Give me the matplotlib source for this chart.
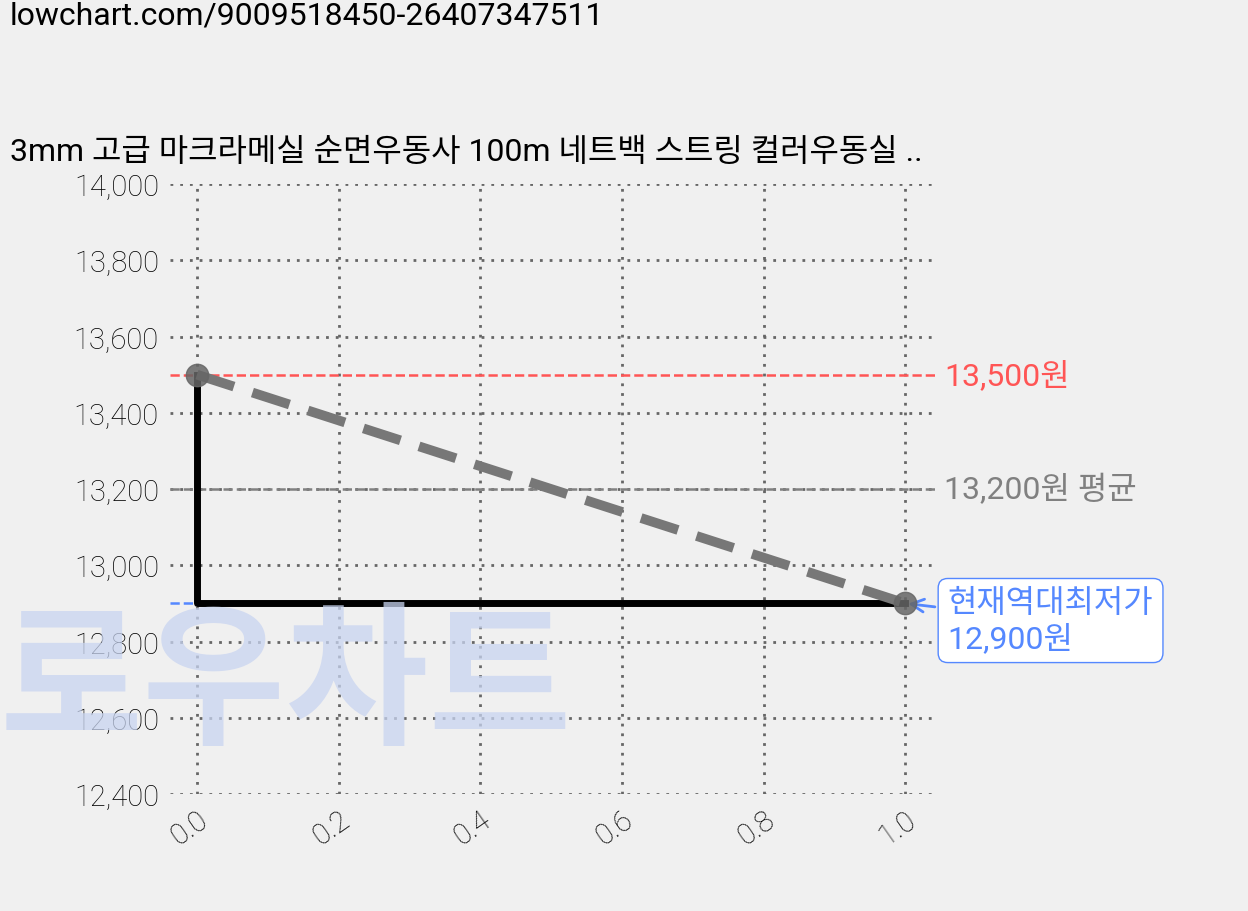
import matplotlib
matplotlib.use("Agg")
import matplotlib.pyplot as plt

plt.rcParams['font.family'] = ['Roboto', 'Noto Sans CJK KR', 'DejaVu Sans']

x_vals = [0.0, 1.0]
prices = [13500, 12900]
step_x = [0.0, 0.0, 1.0]
step_y = [13500, 12900, 12900]
max_price = 13500
avg_price = 13200
min_price = 12900
yticks = [12400, 12600, 12800, 13000, 13200, 13400, 13600, 13800, 14000]
xticks = [0.0, 0.2, 0.4, 0.6, 0.8, 1.0]
title = "3mm 고급 마크라메실 순면우동사 100m 네트백 스트링 컬러우동실 .."
url = "lowchart.com/9009518450-26407347511"

fig = plt.figure(figsize=(12.48, 9.12), dpi=100, facecolor='#f0f0f0')
ax = fig.add_axes([170/1248, 1-795/912, (935-170)/1248, (795-185)/912])
ax.set_facecolor('#f0f0f0')
ax.set_xlim(-0.038, 1.042)
ax.set_ylim(12400, 14000)
for s in ax.spines.values():
    s.set_visible(False)
ax.grid(True, linestyle=(0, (1, 2.5)), color='#666666', linewidth=2)
ax.tick_params(length=0, labelsize=21, pad=8)
ax.set_yticks(yticks)
ax.set_yticklabels([f"{v:,}" for v in yticks], fontweight='light')
ax.set_xticks(xticks)
ax.set_xticklabels([f"{v:.1f}" for v in xticks], rotation=35, ha='right',
                   rotation_mode='anchor', fontweight='light')

fig.text(0.0, 1-765/912, "로우차트", fontsize=112, color='#c8d4f0', alpha=0.75,
         fontweight='bold', ha='left', va='bottom', zorder=0,
         family=['Noto Sans CJK KR'])

ax.axhline(max_price, color='#ff5555', linestyle='--', linewidth=1.8)
ax.axhline(avg_price, color='#808080', linestyle='--', linewidth=1.8)
ax.plot([-0.038, 1.0], [min_price, min_price], color='#5588ff', linestyle='--', linewidth=1.8)
ax.plot(step_x, step_y, color='black', linewidth=5, zorder=4)
ax.plot(x_vals, prices, color='#777777', linestyle=(0, (4, 2)), linewidth=7, zorder=5)
ax.scatter(x_vals, prices, s=260, color='#666666', alpha=0.85, zorder=6)

ax.text(1.055, max_price, f"{max_price:,}원", color='#ff5555', fontsize=23, va='center', clip_on=False)
ax.text(1.055, avg_price, f"{avg_price:,}원 평균", color='#808080', fontsize=23, va='center', clip_on=False)
ax.annotate(f"현재역대최저가\n{min_price:,}원", xy=(1.0, min_price), xytext=(1.06, 12855),
            color='#5588ff', fontsize=23, va='center', ha='left', annotation_clip=False,
            bbox=dict(boxstyle='round,pad=0.3', fc='white', ec='#5588ff'),
            arrowprops=dict(arrowstyle='->', color='#5588ff', lw=2))

fig.text(10/1248, 1-152/912, title, fontsize=23, ha='left', va='center')
fig.text(10/1248, 1-16/912, url, fontsize=23, ha='left', va='center')

fig.savefig('out.png', dpi=100, facecolor='#f0f0f0')
